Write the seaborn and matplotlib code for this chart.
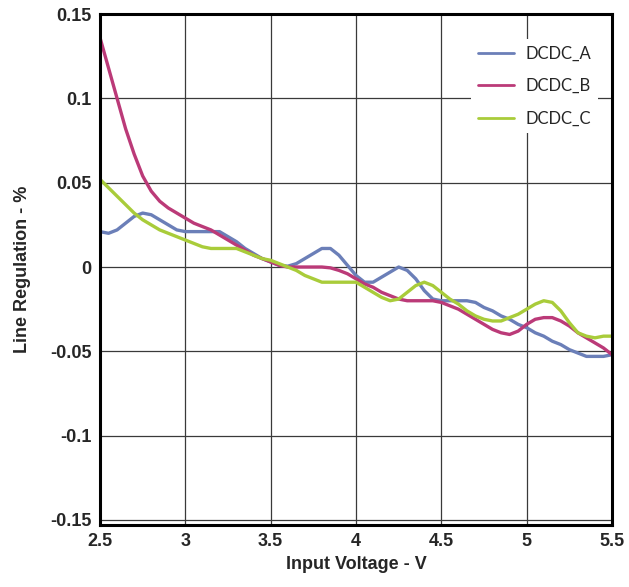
import matplotlib
matplotlib.use('Agg')
import matplotlib.pyplot as plt
import seaborn as sns
import pandas as pd

# Input voltage (V), 0.05 V steps from 2.5 to 5.5
vin = [round(2.5 + 0.05 * i, 2) for i in range(61)]

# Line regulation (%)
dcdc_a = [0.021, 0.020, 0.022, 0.026, 0.030, 0.032, 0.031, 0.028, 0.025, 0.022,
          0.021, 0.021, 0.021, 0.021, 0.021, 0.018, 0.015, 0.011, 0.008, 0.005,
          0.003, 0.001, 0.0005, 0.002, 0.005, 0.008, 0.011, 0.011, 0.007, 0.001,
          -0.005, -0.009, -0.009, -0.006, -0.003, 0.000, -0.002, -0.007, -0.014, -0.019,
          -0.020, -0.020, -0.020, -0.020, -0.021, -0.024, -0.026, -0.029, -0.031, -0.034,
          -0.036, -0.039, -0.041, -0.044, -0.046, -0.049, -0.051, -0.053, -0.053, -0.053,
          -0.052]
dcdc_b = [0.136, 0.118, 0.100, 0.082, 0.067, 0.054, 0.045, 0.039, 0.035, 0.032,
          0.029, 0.026, 0.024, 0.022, 0.019, 0.016, 0.013, 0.010, 0.007, 0.005,
          0.003, 0.001, 0.000, 0.000, 0.000, 0.000, 0.000, -0.0005, -0.002, -0.004,
          -0.007, -0.010, -0.012, -0.015, -0.017, -0.019, -0.020, -0.020, -0.020, -0.020,
          -0.021, -0.023, -0.025, -0.028, -0.031, -0.034, -0.037, -0.039, -0.040, -0.038,
          -0.034, -0.031, -0.030, -0.030, -0.032, -0.035, -0.039, -0.042, -0.045, -0.048,
          -0.052]
dcdc_c = [0.052, 0.047, 0.042, 0.037, 0.032, 0.028, 0.025, 0.022, 0.020, 0.018,
          0.016, 0.014, 0.012, 0.011, 0.011, 0.011, 0.011, 0.009, 0.007, 0.005,
          0.004, 0.002, 0.000, -0.002, -0.005, -0.007, -0.009, -0.009, -0.009, -0.009,
          -0.009, -0.012, -0.015, -0.018, -0.020, -0.019, -0.015, -0.011, -0.009, -0.011,
          -0.015, -0.019, -0.022, -0.026, -0.029, -0.031, -0.032, -0.032, -0.030, -0.028,
          -0.025, -0.022, -0.020, -0.021, -0.026, -0.033, -0.039, -0.041, -0.042, -0.041,
          -0.041]

names = ['DCDC_A', 'DCDC_B', 'DCDC_C']
colors = ['#6b7fb8', '#bb3a78', '#a9cc3a']

df = pd.DataFrame({'vin': vin, 'DCDC_A': dcdc_a, 'DCDC_B': dcdc_b, 'DCDC_C': dcdc_c})
long = df.melt(id_vars='vin', var_name='series', value_name='reg')

sns.set_style('white')
plt.rcParams['font.family'] = ['Liberation Sans', 'DejaVu Sans']

fig = plt.figure(figsize=(6.29, 5.87), dpi=100)
ax = fig.add_axes([0.159, 0.1056, 0.814, 0.8704])

sns.lineplot(data=long, x='vin', y='reg', hue='series', hue_order=names,
             palette=colors, linewidth=2.4, ax=ax)

ax.set_xlim(2.5, 5.5)
ax.set_ylim(-0.153, 0.15)
ax.set_xticks([2.5, 3, 3.5, 4, 4.5, 5, 5.5])
ax.set_xticklabels(['2.5', '3', '3.5', '4', '4.5', '5', '5.5'])
ax.set_yticks([-0.15, -0.1, -0.05, 0, 0.05, 0.1, 0.15])
ax.set_yticklabels(['-0.15', '-0.1', '-0.05', '0', '0.05', '0.1', '0.15'])
ax.grid(True, color='#3a3a3a', linewidth=0.9)
ax.set_axisbelow(True)
for s in ax.spines.values():
    s.set_color('black')
    s.set_linewidth(2.2)
ax.tick_params(axis='both', length=0, pad=6, labelsize=13)
for lab in ax.get_xticklabels() + ax.get_yticklabels():
    lab.set_fontweight('bold')

ax.set_xlabel('Input Voltage - V', fontsize=13, fontweight='bold', labelpad=4)
ax.set_ylabel('Line Regulation - %', fontsize=13, fontweight='bold', labelpad=14)

leg = ax.legend(loc='upper right', bbox_to_anchor=(0.988, 0.968), frameon=True,
                facecolor='white', edgecolor='none', framealpha=1, fancybox=False,
                prop={'family': 'Lato', 'size': 12}, handlelength=2.2,
                labelspacing=1.0, handletextpad=0.65, borderpad=0.4)
for line in leg.get_lines():
    line.set_linewidth(2)

fig.savefig('out.png', dpi=100)
